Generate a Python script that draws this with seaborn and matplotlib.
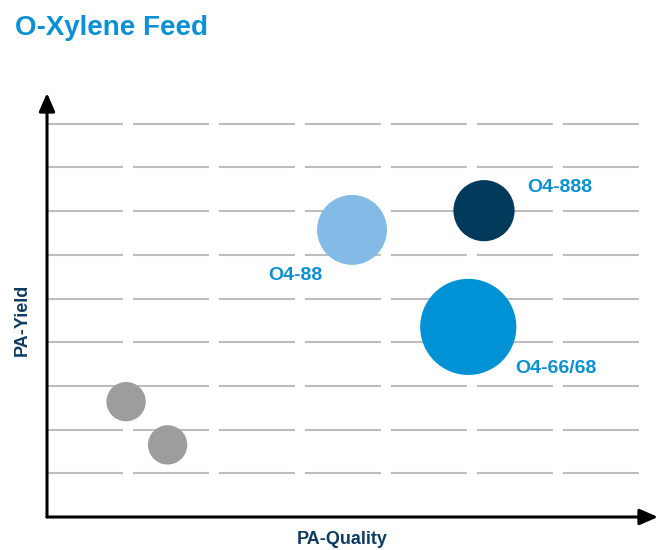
import numpy as np
import pandas as pd
import matplotlib
matplotlib.use("Agg")
import matplotlib.pyplot as plt
import seaborn as sns

# ---- DATA ----
grades = ["Grade A", "Grade B", "O4-88", "O4-888", "O4-66/68"]
pa_quality = [1.81, 2.76, 6.98, 10.0, 9.64]
pa_yield = [2.64, 1.65, 6.57, 7.01, 4.35]
bubble_size = [0.45, 0.45, 0.80, 0.70, 1.10]
labels_shown = ["", "", "O4-88", "O4-888", "O4-66/68"]

colors = {
    "Grade A": "#9d9d9c",
    "Grade B": "#9d9d9c",
    "O4-88": "#84bae6",
    "O4-888": "#023a5c",
    "O4-66/68": "#0092d4",
}
label_blue = "#0a90d3"
navy = "#0f3c61"


def main():
    sns.set_theme(style="white")
    plt.rcParams["font.family"] = ["Liberation Sans", "DejaVu Sans"]
    plt.rcParams["lines.scale_dashes"] = False

    df = pd.DataFrame({"grade": grades, "quality": pa_quality,
                       "yield": pa_yield, "size": bubble_size, "label": labels_shown})

    fig = plt.figure(figsize=(6.58, 5.5), dpi=100)
    ax = fig.add_axes([47 / 658, 33 / 550, 611 / 658, 424 / 550])
    unit = 43.7  # pixels per data unit
    xmax, ymax = 611 / unit, 424 / unit
    ax.set_xlim(0, xmax)
    ax.set_ylim(0, ymax)

    # dashed horizontal grid
    grid_y = np.arange(1, 10)
    ax.hlines(grid_y, 0, 593 / unit, colors="#bdbdbd", linewidth=1.5,
              linestyles=[(0, (54.7, 7.2))], zorder=1)

    # bubbles: size value is radius in data units -> diameter in points
    diam_pt = np.array(bubble_size) * 2 * unit * 0.72
    sns.scatterplot(data=df, x="quality", y="yield", hue="grade", palette=colors,
                    s=diam_pt ** 2, linewidth=0, alpha=1, legend=False, ax=ax, zorder=3)

    offsets = {"O4-88": ((-21, -33), "right"),
               "O4-888": ((31, 17), "left"),
               "O4-66/68": ((34, -30), "left")}
    for _, row in df.iterrows():
        if not row["label"]:
            continue
        (dx, dy), ha = offsets[row["label"]]
        ax.annotate(row["label"], (row["quality"], row["yield"]), xytext=(dx, dy),
                    textcoords="offset points", ha=ha, va="center",
                    fontsize=14, fontweight="bold", color=label_blue)

    # axes with arrowheads
    for s in ax.spines.values():
        s.set_visible(False)
    ax.set_xticks([])
    ax.set_yticks([])
    arrow = dict(arrowstyle="-|>,head_length=1.1,head_width=0.48", color="black",
                 lw=2.2, shrinkA=0, shrinkB=0, mutation_scale=10)
    ax.annotate("", xy=(xmax, 0), xytext=(0, 0), arrowprops=arrow, annotation_clip=False)
    ax.annotate("", xy=(0, ymax), xytext=(0, 0), arrowprops=arrow, annotation_clip=False)
    ax.set_xlabel("")
    ax.set_ylabel("")

    fig.text(342 / 658, 1 - 531 / 550, "PA-Quality", ha="center", va="top",
             fontsize=13, fontweight="bold", color=navy)
    fig.text(22 / 658, 1 - 320 / 550, "PA-Yield", ha="center", va="center",
             rotation=90, fontsize=13, fontweight="bold", color=navy)
    fig.text(15 / 658, 1 - 28 / 550, "O-Xylene Feed", ha="left", va="center",
             fontsize=20, fontweight="bold", color=label_blue)

    fig.savefig("out.png", dpi=100)


if __name__ == "__main__":
    main()
